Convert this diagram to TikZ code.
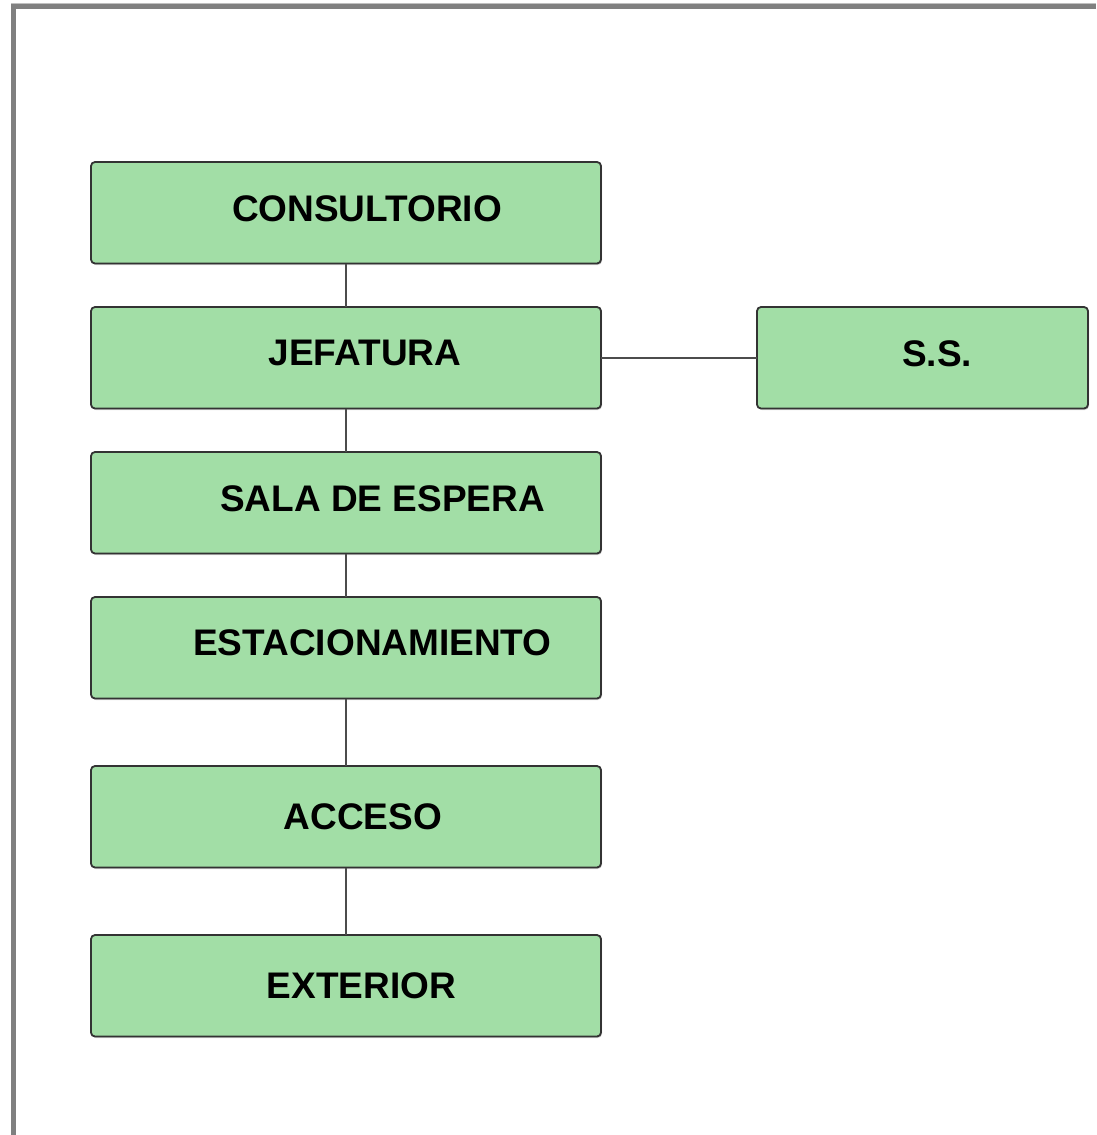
\documentclass[tikz,border=0pt]{standalone}
\usepackage{fontspec}
\setmainfont{Liberation Sans}
\usepackage{xcolor}
\usetikzlibrary{positioning, shadows}

\definecolor{roomgreen}{HTML}{A2DEA6}
\definecolor{framegray}{HTML}{808080}

\begin{document}
\begin{tikzpicture}[thick, node distance=43.5pt,
    room/.style={draw=black!80, line width=1.8pt, rounded corners=4pt, fill=roomgreen,
        minimum width=510pt, minimum height=101.5pt, inner sep=0pt, outer sep=0pt,
        text depth=9pt, font=\fontsize{37}{40}\selectfont\bfseries,
        execute at begin node={\hspace*{#1}},
        drop shadow={shadow xshift=1pt, shadow yshift=-1.5pt, opacity=0.35}},
    room/.default=0pt,
    link/.style={draw=black!70, line width=2pt}]
        \useasboundingbox (0,0) rectangle (1096pt,-1135pt);

        % Frame
        \draw[framegray!50, line width=1pt] (11pt,-3.5pt) -- (1096pt,-3.5pt);
        \draw[framegray, line width=5pt] (13.5pt,-1135pt) -- (13.5pt,-6.5pt) -- (1096pt,-6.5pt);

        % Main column
        \node (consultorio) [room=42pt] at (346pt,-212.75pt) {CONSULTORIO};
        \node (jefatura) [room=38pt, below=of consultorio] {JEFATURA};
        \node (sala) [room=73pt, below=of jefatura] {SALA DE ESPERA};
        \node (estacionamiento) [room=53pt, text depth=11pt, below=of sala] {ESTACIONAMIENTO};
        \node (acceso) [room=34pt, text depth=0pt, below=67.5pt of estacionamiento] {ACCESO};
        \node (exterior) [room=31pt, text depth=0pt, below=67.5pt of acceso] {EXTERIOR};

        % Side room
        \node (ss) [room=29pt, minimum width=331pt, right=156pt of jefatura] {S.S.};

        % Links
        \draw[link] (consultorio) -- (jefatura);
        \draw[link] (jefatura) -- (sala);
        \draw[link] (sala) -- (estacionamiento);
        \draw[link] (estacionamiento) -- (acceso);
        \draw[link] (acceso) -- (exterior);
        \draw[link] (jefatura) -- (ss);
    \end{tikzpicture}
\end{document}
